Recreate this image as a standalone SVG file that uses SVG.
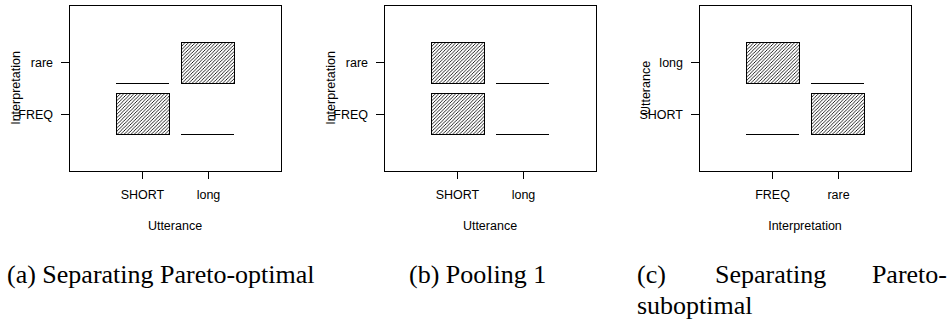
<svg xmlns="http://www.w3.org/2000/svg" width="952" height="322" viewBox="0 0 952 322">
<style>
.ax{fill:none;stroke:#000;stroke-width:1}
.tk{stroke:#000;stroke-width:1}
.t{font-family:"Liberation Sans",Arial,sans-serif;font-size:12.5px;fill:#000}
.cap{font-family:"Liberation Serif","Times New Roman",serif;font-size:26px;fill:#000}
.h{fill:url(#hatch);stroke:#000;stroke-width:1}
.z{stroke:#000;stroke-width:1}
</style>
<defs>
<pattern id="hatch" patternUnits="userSpaceOnUse" width="3.4" height="3.4">
<path d="M-1,1 L1,-1 M0,3.4 L3.4,0 M2.4,4.4 L4.4,2.4" stroke="#000" stroke-width="0.85"/>
</pattern>
<g id="frame">
<rect class="ax" x="69.5" y="5.5" width="212" height="166"/>
<line class="tk" x1="61" y1="62.5" x2="69" y2="62.5"/>
<line class="tk" x1="61" y1="114.5" x2="69" y2="114.5"/>
<line class="tk" x1="142.5" y1="172" x2="142.5" y2="179"/>
<line class="tk" x1="208.5" y1="172" x2="208.5" y2="179"/>
</g>
</defs>
<g id="panel-a">
<use href="#frame"/>
<text class="t" x="53" y="66.5" text-anchor="end">rare</text>
<text class="t" x="53" y="118.5" text-anchor="end">FREQ</text>
<text class="t" x="142.5" y="199" text-anchor="middle">SHORT</text>
<text class="t" x="208.5" y="199" text-anchor="middle">long</text>
<text class="t" x="175" y="230" text-anchor="middle">Utterance</text>
<text class="t" transform="translate(20,88) rotate(-90)" text-anchor="middle">Interpretation</text>
<line class="z" x1="116" y1="83.5" x2="169" y2="83.5"/>
<rect class="h" x="116.5" y="93.5" width="53" height="41"/>
<rect class="h" x="181.5" y="42.5" width="53" height="41"/>
<line class="z" x1="181" y1="134.5" x2="234" y2="134.5"/>
</g>
<g id="panel-b" transform="translate(315,0)">
<use href="#frame"/>
<text class="t" x="53" y="66.5" text-anchor="end">rare</text>
<text class="t" x="53" y="118.5" text-anchor="end">FREQ</text>
<text class="t" x="142.5" y="199" text-anchor="middle">SHORT</text>
<text class="t" x="208.5" y="199" text-anchor="middle">long</text>
<text class="t" x="175" y="230" text-anchor="middle">Utterance</text>
<text class="t" transform="translate(20,88) rotate(-90)" text-anchor="middle">Interpretation</text>
<rect class="h" x="116.5" y="42.5" width="53" height="41"/>
<rect class="h" x="116.5" y="93.5" width="53" height="41"/>
<line class="z" x1="181" y1="83.5" x2="234" y2="83.5"/>
<line class="z" x1="181" y1="134.5" x2="234" y2="134.5"/>
</g>
<g id="panel-c" transform="translate(630,0)">
<use href="#frame"/>
<text class="t" x="53" y="66.5" text-anchor="end">long</text>
<text class="t" x="53" y="118.5" text-anchor="end">SHORT</text>
<text class="t" x="142.5" y="199" text-anchor="middle">FREQ</text>
<text class="t" x="208.5" y="199" text-anchor="middle">rare</text>
<text class="t" x="175" y="230" text-anchor="middle">Interpretation</text>
<text class="t" transform="translate(20,88) rotate(-90)" text-anchor="middle">Utterance</text>
<rect class="h" x="116.5" y="42.5" width="53" height="41"/>
<line class="z" x1="116" y1="134.5" x2="169" y2="134.5"/>
<line class="z" x1="181" y1="83.5" x2="234" y2="83.5"/>
<rect class="h" x="181.5" y="93.5" width="53" height="41"/>
</g>
<g id="captions">
<text class="cap" x="7" y="283">(a) Separating Pareto-optimal</text>
<text class="cap" x="409" y="283">(b) Pooling 1</text>
<text class="cap" x="637" y="283">(c)</text>
<text class="cap" x="715" y="283">Separating</text>
<text class="cap" x="947" y="283" text-anchor="end">Pareto-</text>
<text class="cap" x="637" y="314">suboptimal</text>
</g>
</svg>
